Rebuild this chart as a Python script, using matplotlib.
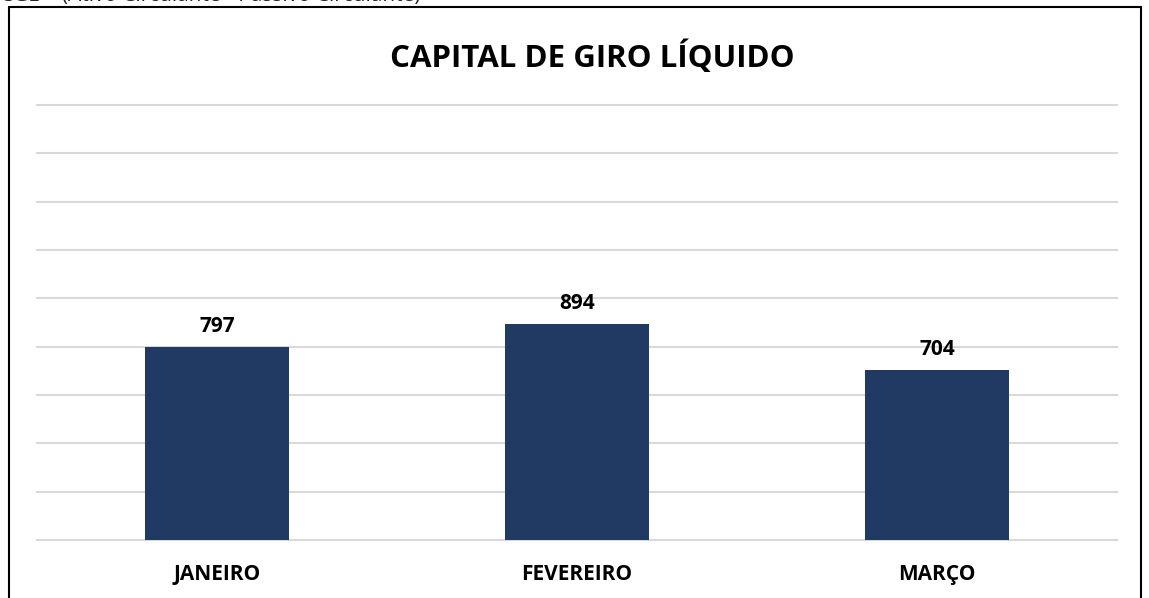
import matplotlib
matplotlib.use("Agg")
import matplotlib.pyplot as plt
from matplotlib.patches import Rectangle

months = ["JANEIRO", "FEVEREIRO", "MARÇO"]
cgl_values = [797, 894, 704]
y_ticks = [0, 200, 400, 600, 800, 1000, 1200, 1400, 1600, 1800]

BAR_COLOR = "#213A64"
GRID_COLOR = "#D9D9D9"
FONT = ["Open Sans", "DejaVu Sans"]

W, H = 1149, 598
fig = plt.figure(figsize=(W / 100, H / 100), dpi=100)
ax = fig.add_axes([37 / W, (H - 540) / H, (1117 - 37) / W, (540 - 105) / H])

x = range(len(months))
bars = ax.bar(x, cgl_values, width=0.4, color=BAR_COLOR, zorder=3)
ax.set_xlim(-0.5, len(months) - 0.5)
ax.set_ylim(0, 1800)
ax.set_yticks(y_ticks)
ax.yaxis.grid(True, color=GRID_COLOR, linewidth=1.5, zorder=0)
for gl in ax.get_ygridlines():
    gl.set_clip_on(False)
ax.tick_params(left=False, bottom=False, labelleft=False)
for side in ["top", "right", "left", "bottom"]:
    ax.spines[side].set_visible(False)

ax.set_xticks(list(x))
ax.set_xticklabels(months, fontsize=15, fontweight="bold", family=FONT)
ax.tick_params(axis="x", pad=13.5)

for b, v in zip(bars, cgl_values):
    ax.annotate(f"{v}", (b.get_x() + b.get_width() / 2, v),
                xytext=(0, 15), textcoords="offset points",
                ha="center", va="center", fontsize=15, fontweight="bold",
                family=FONT)

fig.text(592 / W, (H - 57) / H, "CAPITAL DE GIRO LÍQUIDO", ha="center", va="center",
         fontsize=22.5, fontweight="bold", family=FONT)

# formula line, partially cut at the top of the image (as in the source)
fig.text(0.0, 1.0 - 6 / H, "CGL = (Ativo Circulante - Passivo Circulante)",
         ha="left", va="bottom", fontsize=15, family=FONT, color="#222222")

# chart border
fig.patches.append(Rectangle((9 / W, -0.05), (1141 - 9) / W, (H - 7) / H + 0.05,
                             transform=fig.transFigure, fill=False,
                             edgecolor="black", linewidth=1.5))

fig.savefig("out.png", dpi=100)
